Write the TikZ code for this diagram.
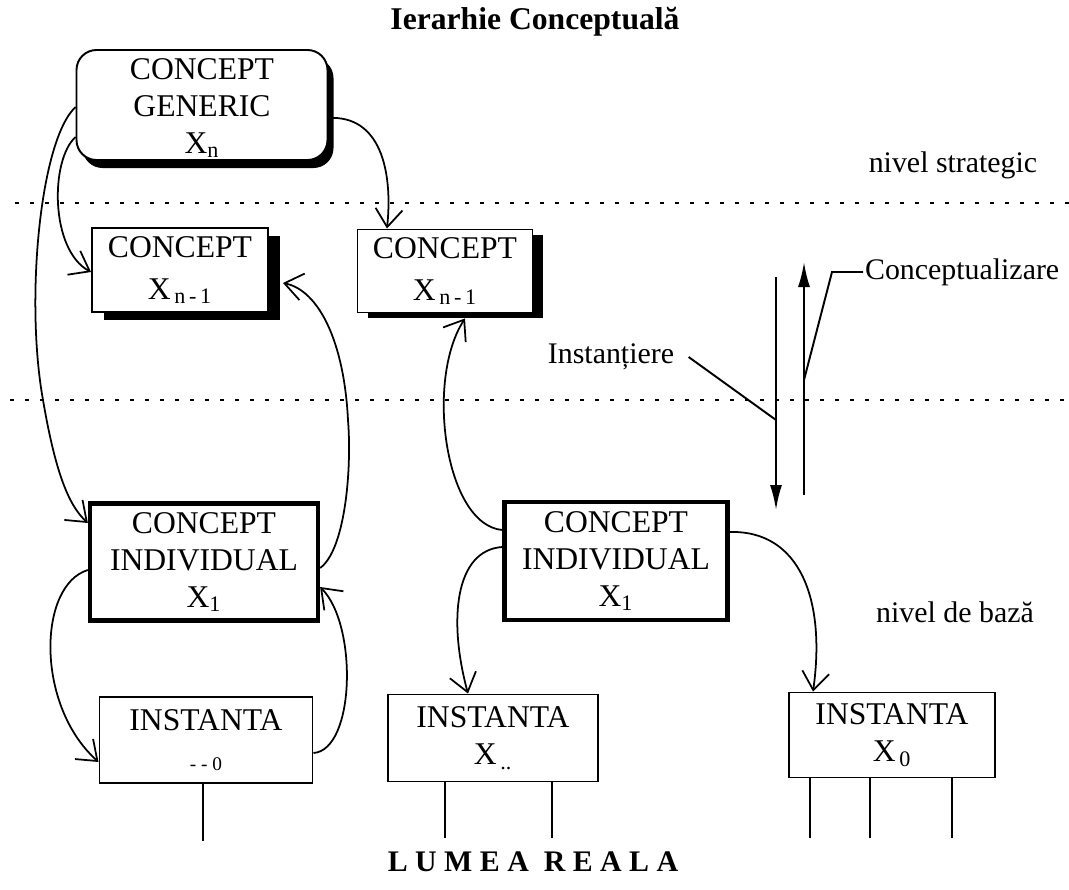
\documentclass[tikz,border=0pt]{standalone}
\usepackage{fontspec}
\setmainfont{Liberation Serif}
\newfontfamily\spacedfont[LetterSpace=25]{Liberation Serif}
\usetikzlibrary{arrows.meta,shadows,calc}

\tikzset{
  box/.style={draw, line width=1.1pt, fill=white, align=center, inner sep=0pt,
    font=\fontsize{18}{21}\selectfont},
  thickbox/.style={box, line width=2.4pt},
  shadebox/.style 2 args={box, drop shadow={shadow xshift=#1, shadow yshift=#2, fill=black, opacity=1}},
  boxtext/.style={align=center, inner sep=0pt, font=\fontsize{18}{21}\selectfont},
  link/.style={line width=1pt, -{Straight Barb[length=3.6mm,width=5.4mm]}},
  flow/.style={line width=1.2pt, -{Latex[length=5mm,width=2.4mm]}},
  leader/.style={line width=1.1pt},
  levelline/.style={line width=1.3pt, dash pattern=on 0.8mm off 2.2mm},
  leg/.style={line width=1.1pt},
  lvltext/.style={inner sep=1pt, font=\fontsize{17}{20}\selectfont},
}

\begin{document}
\begin{tikzpicture}[x=0.2mm,y=-0.2mm]
\useasboundingbox (0,0) rectangle (1069,890);

\node[font=\bfseries\fontsize{18}{21}\selectfont] (title) at (535,22) {Ierarhie Conceptuală};

% levels
\draw[levelline] (15,203) -- (1069,203);
\draw[levelline] (10,400) -- (1069,400);
\node[lvltext] (strat) at (953,165) {nivel strategic};
\node[lvltext] (baza) at (955,612) {nivel de bază};

% concepts
\node[shadebox={1.2mm}{-1.6mm}, rounded corners=4mm, minimum width=50.2mm, minimum height=22mm] (gen) at (202,105) {};
\node[boxtext] (gentext) at (202,108) {CONCEPT\\GENERIC\\X\textsubscript{n}};
\node[shadebox={2.4mm}{-1.6mm}, minimum width=35.2mm, minimum height=16.8mm] (cpl) at (180,270) {CONCEPT\\[3pt]X\textsubscript{\,n\,-\,1}};
\node[shadebox={2mm}{-1mm}, minimum width=35mm, minimum height=16.6mm] (cpm) at (445,271) {CONCEPT\\[3pt]X\textsubscript{\,n\,-\,1}};
\node[thickbox, minimum width=45.6mm, minimum height=23.4mm] (indl) at (204,562) {CONCEPT\\INDIVIDUAL\\X\textsubscript{1}};
\node[thickbox, minimum width=44.6mm, minimum height=23.6mm] (indm) at (616,561) {CONCEPT\\INDIVIDUAL\\X\textsubscript{1}};

% instances
\node[box, minimum width=42.6mm, minimum height=17.2mm] (instl) at (206,740) {INSTANTA\\[2pt]{\fontsize{11}{12}\selectfont - - 0}};
\node[box, minimum width=42mm, minimum height=17.4mm] (instm) at (493,738) {INSTANTA\\X\textsubscript{\,..}};
\node[box, minimum width=41.2mm, minimum height=17mm] (instr) at (892,735) {INSTANTA\\X\textsubscript{\,0}};

\draw[leg] ([xshift=-0.6mm]instl.south) -- ++(0,57);
\foreach \dx in {-48,59}
  \draw[leg] ([xshift=\dx*0.2mm]instm.south) -- ++(0,56);
\foreach \dx in {-82,-22,60}
  \draw[leg] ([xshift=\dx*0.2mm]instr.south) -- ++(0,60);

\node[font=\spacedfont\bfseries\fontsize{17}{20}\selectfont] (world) at (533,862) {LUMEA REALA};

% links
\draw[link] ($(gen.west)+(0,2)$) .. controls (40,140) and (25,300) .. (43,400) .. controls (55,470) and (68,505) .. ($(indl.west)+(0,-39)$);
\draw[link] ($(gen.west)+(0,32)$) .. controls (50,160) and (50,250) .. ($(cpl.west)+(0,2)$);
\draw[link] ($(gen.east)+(0,13)$) .. controls (380,115) and (393,170) .. ($(cpm.north)+(-58,0)$);
\draw[link] ($(indl.east)+(0,6)$) .. controls (345,550) and (352,470) .. (348,420) .. controls (344,340) and (318,290) .. ($(cpl.east)+(14,13)$);
\draw[link] ($(indl.west)+(0,8)$) .. controls (38,585) and (35,705) .. ($(instl.west)+(0,22)$);
\draw[link] ($(instl.east)+(0,13)$) .. controls (355,750) and (358,625) .. ($(indl.east)+(0,25)$);
\draw[link] ($(indm.west)+(0,-31)$) .. controls (445,525) and (425,380) .. ($(cpm.south)+(20,5)$);
\draw[link] ($(indm.west)+(0,-14)$) .. controls (455,550) and (448,620) .. ($(instm.north)+(-25,0)$);
\draw[link] ($(indm.east)+(0,-29)$) .. controls (800,530) and (826,600) .. ($(instr.north)+(-79,0)$);

% instantiere / conceptualizare
\coordinate (dtop) at (776,277);
\coordinate (dbot) at (776,510);
\coordinate (ubot) at (804,495);
\coordinate (utop) at (804,262);
\draw[flow] (dtop) -- (dbot);
\draw[flow] (ubot) -- (utop);

\node[lvltext] (inst) at (611,357) {Instanțiere};
\coordinate (instfoot) at (776,420);
\draw[leader] ([xshift=2.5mm]inst.east) -- (instfoot);

\node[lvltext, anchor=west] (concl) at (863,272) {Conceptualizare};
\coordinate (cbend) at (832,272);
\coordinate (cfoot) at (804,380);
\draw[leader] (concl.west) -- (cbend) -- (cfoot);
\end{tikzpicture}
\end{document}
